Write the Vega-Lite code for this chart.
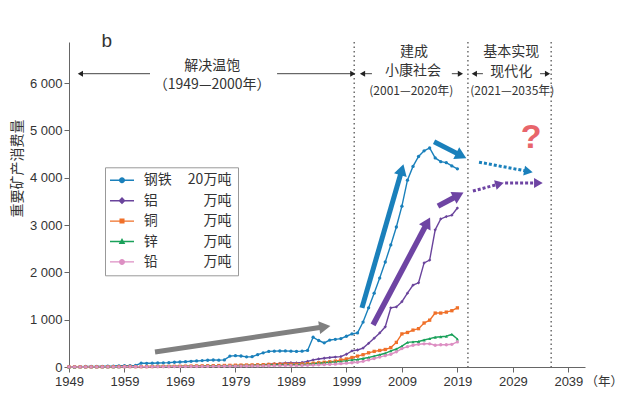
{
  "$schema": "https://vega.github.io/schema/vega-lite/v6.json",
  "width": 516,
  "height": 325,
  "autosize": {"type": "none"},
  "padding": {"left": 69, "top": 42, "right": 38, "bottom": 30},
  "background": "white",
  "config": {"view": {"stroke": null}},
  "datasets": {
    "series": [
      {"year":1949,"item":"钢铁","value":5},{"year":1950,"item":"钢铁","value":6},{"year":1951,"item":"钢铁","value":8},{"year":1952,"item":"钢铁","value":10},{"year":1953,"item":"钢铁","value":12},{"year":1954,"item":"钢铁","value":14},{"year":1955,"item":"钢铁","value":15},{"year":1956,"item":"钢铁","value":18},{"year":1957,"item":"钢铁","value":20},{"year":1958,"item":"钢铁","value":25},
      {"year":1959,"item":"钢铁","value":28},{"year":1960,"item":"钢铁","value":30},{"year":1961,"item":"钢铁","value":32},{"year":1962,"item":"钢铁","value":80},{"year":1963,"item":"钢铁","value":78},{"year":1964,"item":"钢铁","value":80},{"year":1965,"item":"钢铁","value":85},{"year":1966,"item":"钢铁","value":88},{"year":1967,"item":"钢铁","value":92},{"year":1968,"item":"钢铁","value":100},
      {"year":1969,"item":"钢铁","value":105},{"year":1970,"item":"钢铁","value":112},{"year":1971,"item":"钢铁","value":120},{"year":1972,"item":"钢铁","value":128},{"year":1973,"item":"钢铁","value":135},{"year":1974,"item":"钢铁","value":142},{"year":1975,"item":"钢铁","value":148},{"year":1976,"item":"钢铁","value":145},{"year":1977,"item":"钢铁","value":150},{"year":1978,"item":"钢铁","value":230},
      {"year":1979,"item":"钢铁","value":240},{"year":1980,"item":"钢铁","value":232},{"year":1981,"item":"钢铁","value":215},{"year":1982,"item":"钢铁","value":218},{"year":1983,"item":"钢铁","value":260},{"year":1984,"item":"钢铁","value":300},{"year":1985,"item":"钢铁","value":330},{"year":1986,"item":"钢铁","value":335},{"year":1987,"item":"钢铁","value":338},{"year":1988,"item":"钢铁","value":340},
      {"year":1989,"item":"钢铁","value":335},{"year":1990,"item":"钢铁","value":330},{"year":1991,"item":"钢铁","value":335},{"year":1992,"item":"钢铁","value":350},{"year":1993,"item":"钢铁","value":630},{"year":1994,"item":"钢铁","value":560},{"year":1995,"item":"钢铁","value":510},{"year":1996,"item":"钢铁","value":570},{"year":1997,"item":"钢铁","value":585},{"year":1998,"item":"钢铁","value":600},
      {"year":1999,"item":"钢铁","value":650},{"year":2000,"item":"钢铁","value":700},{"year":2001,"item":"钢铁","value":720},{"year":2002,"item":"钢铁","value":950},{"year":2003,"item":"钢铁","value":1250},{"year":2004,"item":"钢铁","value":1560},{"year":2005,"item":"钢铁","value":1880},{"year":2006,"item":"钢铁","value":2220},{"year":2007,"item":"钢铁","value":2580},{"year":2008,"item":"钢铁","value":2960},
      {"year":2009,"item":"钢铁","value":3400},{"year":2010,"item":"钢铁","value":3950},{"year":2011,"item":"钢铁","value":4240},{"year":2012,"item":"钢铁","value":4450},{"year":2013,"item":"钢铁","value":4570},{"year":2014,"item":"钢铁","value":4630},{"year":2015,"item":"钢铁","value":4420},{"year":2016,"item":"钢铁","value":4340},{"year":2017,"item":"钢铁","value":4320},{"year":2018,"item":"钢铁","value":4250},
      {"year":2019,"item":"钢铁","value":4190},

      {"year":1949,"item":"铝","value":0},{"year":1950,"item":"铝","value":1},{"year":1951,"item":"铝","value":1},{"year":1952,"item":"铝","value":2},{"year":1953,"item":"铝","value":2},{"year":1954,"item":"铝","value":3},{"year":1955,"item":"铝","value":3},{"year":1956,"item":"铝","value":4},{"year":1957,"item":"铝","value":5},{"year":1958,"item":"铝","value":6},
      {"year":1959,"item":"铝","value":7},{"year":1960,"item":"铝","value":8},{"year":1961,"item":"铝","value":7},{"year":1962,"item":"铝","value":6},{"year":1963,"item":"铝","value":6},{"year":1964,"item":"铝","value":7},{"year":1965,"item":"铝","value":8},{"year":1966,"item":"铝","value":9},{"year":1967,"item":"铝","value":9},{"year":1968,"item":"铝","value":10},
      {"year":1969,"item":"铝","value":11},{"year":1970,"item":"铝","value":13},{"year":1971,"item":"铝","value":14},{"year":1972,"item":"铝","value":16},{"year":1973,"item":"铝","value":17},{"year":1974,"item":"铝","value":18},{"year":1975,"item":"铝","value":19},{"year":1976,"item":"铝","value":20},{"year":1977,"item":"铝","value":22},{"year":1978,"item":"铝","value":28},
      {"year":1979,"item":"铝","value":30},{"year":1980,"item":"铝","value":32},{"year":1981,"item":"铝","value":34},{"year":1982,"item":"铝","value":38},{"year":1983,"item":"铝","value":45},{"year":1984,"item":"铝","value":50},{"year":1985,"item":"铝","value":60},{"year":1986,"item":"铝","value":70},{"year":1987,"item":"铝","value":75},{"year":1988,"item":"铝","value":85},
      {"year":1989,"item":"铝","value":90},{"year":1990,"item":"铝","value":85},{"year":1991,"item":"铝","value":95},{"year":1992,"item":"铝","value":120},{"year":1993,"item":"铝","value":150},{"year":1994,"item":"铝","value":170},{"year":1995,"item":"铝","value":185},{"year":1996,"item":"铝","value":200},{"year":1997,"item":"铝","value":210},{"year":1998,"item":"铝","value":220},
      {"year":1999,"item":"铝","value":270},{"year":2000,"item":"铝","value":340},{"year":2001,"item":"铝","value":360},{"year":2002,"item":"铝","value":400},{"year":2003,"item":"铝","value":500},{"year":2004,"item":"铝","value":610},{"year":2005,"item":"铝","value":720},{"year":2006,"item":"铝","value":850},{"year":2007,"item":"铝","value":1250},{"year":2008,"item":"铝","value":1270},
      {"year":2009,"item":"铝","value":1380},{"year":2010,"item":"铝","value":1560},{"year":2011,"item":"铝","value":1730},{"year":2012,"item":"铝","value":1780},{"year":2013,"item":"铝","value":2200},{"year":2014,"item":"铝","value":2260},{"year":2015,"item":"铝","value":2900},{"year":2016,"item":"铝","value":3130},{"year":2017,"item":"铝","value":3180},{"year":2018,"item":"铝","value":3210},
      {"year":2019,"item":"铝","value":3360},

      {"year":1949,"item":"铜","value":1},{"year":1950,"item":"铜","value":1},{"year":1951,"item":"铜","value":2},{"year":1952,"item":"铜","value":2},{"year":1953,"item":"铜","value":3},{"year":1954,"item":"铜","value":3},{"year":1955,"item":"铜","value":4},{"year":1956,"item":"铜","value":5},{"year":1957,"item":"铜","value":6},{"year":1958,"item":"铜","value":8},
      {"year":1959,"item":"铜","value":9},{"year":1960,"item":"铜","value":10},{"year":1961,"item":"铜","value":8},{"year":1962,"item":"铜","value":8},{"year":1963,"item":"铜","value":9},{"year":1964,"item":"铜","value":10},{"year":1965,"item":"铜","value":12},{"year":1966,"item":"铜","value":13},{"year":1967,"item":"铜","value":13},{"year":1968,"item":"铜","value":14},
      {"year":1969,"item":"铜","value":15},{"year":1970,"item":"铜","value":17},{"year":1971,"item":"铜","value":19},{"year":1972,"item":"铜","value":22},{"year":1973,"item":"铜","value":24},{"year":1974,"item":"铜","value":26},{"year":1975,"item":"铜","value":27},{"year":1976,"item":"铜","value":30},{"year":1977,"item":"铜","value":32},{"year":1978,"item":"铜","value":35},
      {"year":1979,"item":"铜","value":38},{"year":1980,"item":"铜","value":40},{"year":1981,"item":"铜","value":42},{"year":1982,"item":"铜","value":44},{"year":1983,"item":"铜","value":46},{"year":1984,"item":"铜","value":50},{"year":1985,"item":"铜","value":55},{"year":1986,"item":"铜","value":58},{"year":1987,"item":"铜","value":60},{"year":1988,"item":"铜","value":62},
      {"year":1989,"item":"铜","value":60},{"year":1990,"item":"铜","value":58},{"year":1991,"item":"铜","value":65},{"year":1992,"item":"铜","value":70},{"year":1993,"item":"铜","value":80},{"year":1994,"item":"铜","value":90},{"year":1995,"item":"铜","value":100},{"year":1996,"item":"铜","value":110},{"year":1997,"item":"铜","value":125},{"year":1998,"item":"铜","value":150},
      {"year":1999,"item":"铜","value":170},{"year":2000,"item":"铜","value":200},{"year":2001,"item":"铜","value":230},{"year":2002,"item":"铜","value":260},{"year":2003,"item":"铜","value":300},{"year":2004,"item":"铜","value":330},{"year":2005,"item":"铜","value":350},{"year":2006,"item":"铜","value":370},{"year":2007,"item":"铜","value":410},{"year":2008,"item":"铜","value":520},
      {"year":2009,"item":"铜","value":700},{"year":2010,"item":"铜","value":730},{"year":2011,"item":"铜","value":780},{"year":2012,"item":"铜","value":810},{"year":2013,"item":"铜","value":930},{"year":2014,"item":"铜","value":990},{"year":2015,"item":"铜","value":1140},{"year":2016,"item":"铜","value":1140},{"year":2017,"item":"铜","value":1160},{"year":2018,"item":"铜","value":1190},
      {"year":2019,"item":"铜","value":1250},

      {"year":1949,"item":"锌","value":1},{"year":1950,"item":"锌","value":1},{"year":1951,"item":"锌","value":2},{"year":1952,"item":"锌","value":2},{"year":1953,"item":"锌","value":2},{"year":1954,"item":"锌","value":3},{"year":1955,"item":"锌","value":3},{"year":1956,"item":"锌","value":4},{"year":1957,"item":"锌","value":5},{"year":1958,"item":"锌","value":6},
      {"year":1959,"item":"锌","value":7},{"year":1960,"item":"锌","value":8},{"year":1961,"item":"锌","value":7},{"year":1962,"item":"锌","value":7},{"year":1963,"item":"锌","value":8},{"year":1964,"item":"锌","value":9},{"year":1965,"item":"锌","value":10},{"year":1966,"item":"锌","value":11},{"year":1967,"item":"锌","value":11},{"year":1968,"item":"锌","value":12},
      {"year":1969,"item":"锌","value":13},{"year":1970,"item":"锌","value":15},{"year":1971,"item":"锌","value":16},{"year":1972,"item":"锌","value":18},{"year":1973,"item":"锌","value":19},{"year":1974,"item":"锌","value":20},{"year":1975,"item":"锌","value":21},{"year":1976,"item":"锌","value":23},{"year":1977,"item":"锌","value":25},{"year":1978,"item":"锌","value":27},
      {"year":1979,"item":"锌","value":30},{"year":1980,"item":"锌","value":32},{"year":1981,"item":"锌","value":33},{"year":1982,"item":"锌","value":35},{"year":1983,"item":"锌","value":37},{"year":1984,"item":"锌","value":40},{"year":1985,"item":"锌","value":43},{"year":1986,"item":"锌","value":46},{"year":1987,"item":"锌","value":48},{"year":1988,"item":"锌","value":50},
      {"year":1989,"item":"锌","value":50},{"year":1990,"item":"锌","value":48},{"year":1991,"item":"锌","value":55},{"year":1992,"item":"锌","value":60},{"year":1993,"item":"锌","value":70},{"year":1994,"item":"锌","value":80},{"year":1995,"item":"锌","value":90},{"year":1996,"item":"锌","value":100},{"year":1997,"item":"锌","value":110},{"year":1998,"item":"锌","value":120},
      {"year":1999,"item":"锌","value":135},{"year":2000,"item":"锌","value":150},{"year":2001,"item":"锌","value":160},{"year":2002,"item":"锌","value":180},{"year":2003,"item":"锌","value":200},{"year":2004,"item":"锌","value":230},{"year":2005,"item":"锌","value":260},{"year":2006,"item":"锌","value":290},{"year":2007,"item":"锌","value":340},{"year":2008,"item":"锌","value":380},
      {"year":2009,"item":"锌","value":440},{"year":2010,"item":"锌","value":520},{"year":2011,"item":"锌","value":530},{"year":2012,"item":"锌","value":540},{"year":2013,"item":"锌","value":570},{"year":2014,"item":"锌","value":600},{"year":2015,"item":"锌","value":630},{"year":2016,"item":"锌","value":640},{"year":2017,"item":"锌","value":650},{"year":2018,"item":"锌","value":690},
      {"year":2019,"item":"锌","value":590},

      {"year":1949,"item":"铅","value":1},{"year":1950,"item":"铅","value":1},{"year":1951,"item":"铅","value":1},{"year":1952,"item":"铅","value":1},{"year":1953,"item":"铅","value":2},{"year":1954,"item":"铅","value":2},{"year":1955,"item":"铅","value":2},{"year":1956,"item":"铅","value":3},{"year":1957,"item":"铅","value":3},{"year":1958,"item":"铅","value":4},
      {"year":1959,"item":"铅","value":5},{"year":1960,"item":"铅","value":5},{"year":1961,"item":"铅","value":5},{"year":1962,"item":"铅","value":5},{"year":1963,"item":"铅","value":5},{"year":1964,"item":"铅","value":6},{"year":1965,"item":"铅","value":6},{"year":1966,"item":"铅","value":7},{"year":1967,"item":"铅","value":7},{"year":1968,"item":"铅","value":8},
      {"year":1969,"item":"铅","value":8},{"year":1970,"item":"铅","value":9},{"year":1971,"item":"铅","value":10},{"year":1972,"item":"铅","value":11},{"year":1973,"item":"铅","value":12},{"year":1974,"item":"铅","value":13},{"year":1975,"item":"铅","value":14},{"year":1976,"item":"铅","value":15},{"year":1977,"item":"铅","value":16},{"year":1978,"item":"铅","value":18},
      {"year":1979,"item":"铅","value":19},{"year":1980,"item":"铅","value":20},{"year":1981,"item":"铅","value":21},{"year":1982,"item":"铅","value":22},{"year":1983,"item":"铅","value":23},{"year":1984,"item":"铅","value":25},{"year":1985,"item":"铅","value":27},{"year":1986,"item":"铅","value":29},{"year":1987,"item":"铅","value":30},{"year":1988,"item":"铅","value":32},
      {"year":1989,"item":"铅","value":32},{"year":1990,"item":"铅","value":30},{"year":1991,"item":"铅","value":33},{"year":1992,"item":"铅","value":36},{"year":1993,"item":"铅","value":40},{"year":1994,"item":"铅","value":45},{"year":1995,"item":"铅","value":50},{"year":1996,"item":"铅","value":55},{"year":1997,"item":"铅","value":60},{"year":1998,"item":"铅","value":70},
      {"year":1999,"item":"铅","value":80},{"year":2000,"item":"铅","value":90},{"year":2001,"item":"铅","value":100},{"year":2002,"item":"铅","value":120},{"year":2003,"item":"铅","value":150},{"year":2004,"item":"铅","value":180},{"year":2005,"item":"铅","value":210},{"year":2006,"item":"铅","value":240},{"year":2007,"item":"铅","value":270},{"year":2008,"item":"铅","value":320},
      {"year":2009,"item":"铅","value":390},{"year":2010,"item":"铅","value":430},{"year":2011,"item":"铅","value":460},{"year":2012,"item":"铅","value":480},{"year":2013,"item":"铅","value":490},{"year":2014,"item":"铅","value":490},{"year":2015,"item":"铅","value":460},{"year":2016,"item":"铅","value":470},{"year":2017,"item":"铅","value":470},{"year":2018,"item":"铅","value":480},
      {"year":2019,"item":"铅","value":530}
    ],
    "periods": [{"x": 2000.4}, {"x": 2020.9}, {"x": 2035.9}],
    "arrows": [
      {"id":"grey","x":1964.5,"y":317,"x2":1995.1,"y2":851},
      {"id":"blueUp","x":2001.8,"y":1250,"x2":2009.0,"y2":4170},
      {"id":"purpleUp","x":2003.8,"y":890,"x2":2013.6,"y2":3057},
      {"id":"blueDown","x":2014.8,"y":4760,"x2":2019.7,"y2":4468},
      {"id":"purpleShort","x":2015.5,"y":3400,"x2":2019.2,"y2":3631},
      {"id":"blueDot","x":2022.9,"y":4330,"x2":2031.8,"y2":4134},
      {"id":"purpleDot1","x":2021.8,"y":3720,"x2":2026.6,"y2":3871},
      {"id":"purpleDot2","x":2027.6,"y":3890,"x2":2033.6,"y2":3890},
      {"id":"h1","x":1963.6,"y":6200,"x2":1951.05,"y2":6200},
      {"id":"h2","x":1986.5,"y":6200,"x2":2000.15,"y2":6200},
      {"id":"h3","x":2003.6,"y":6200,"x2":2001.9,"y2":6200},
      {"id":"h4","x":2018,"y":6200,"x2":2019.55,"y2":6200},
      {"id":"h5","x":2023.6,"y":6200,"x2":2022.05,"y2":6200},
      {"id":"h6","x":2033.9,"y":6200,"x2":2035.25,"y2":6200}
    ],
    "labels": [
      {"kind":"b","x":1955.8,"y":6890,"text":"b"},
      {"kind":"big","x":1974.8,"y":6360,"text":"解决温饱"},
      {"kind":"big","x":1974.8,"y":5970,"text":"（1949—2000年）"},
      {"kind":"big","x":2011.2,"y":6666,"text":"建成"},
      {"kind":"big","x":2011.0,"y":6264,"text":"小康社会"},
      {"kind":"small","x":2010.7,"y":5835,"text":"(2001—2020年)"},
      {"kind":"big","x":2028.7,"y":6666,"text":"基本实现"},
      {"kind":"big","x":2028.7,"y":6243,"text":"现代化"},
      {"kind":"small","x":2028.9,"y":5835,"text":"(2021—2035年)"},
      {"kind":"q","x":2032.3,"y":4831,"text":"?"}
    ]
  },
  "resolve": {
    "scale": {"color": "independent", "shape": "independent", "opacity": "independent"},
    "axis": {"x": "independent"}
  },
  "layer": [
    {
      "data": {"name": "periods"},
      "mark": {"type": "rule", "color": "#555555", "strokeWidth": 1.3, "strokeDash": [1.5, 3]},
      "encoding": {
        "x": {
          "field": "x", "type": "quantitative",
          "scale": {"domain": [1949, 2042], "nice": false, "zero": false},
          "axis": {
            "orient": "bottom",
            "title": "（年）",
            "titleFont": "Noto Sans CJK SC", "titleFontSize": 12.5, "titleFontWeight": "normal", "titleColor": "#333333",
            "titleAngle": 0, "titleAlign": "left", "titleBaseline": "middle", "titleX": 516, "titleY": 14,
            "values": [1949,1959,1969,1979,1989,1999,2009,2019,2029,2039],
            "format": "d", "tickSize": 5,
            "labelOverlap": false, "labelBound": false, "labelFlush": false,
            "labelFont": "Liberation Sans", "labelFontSize": 13, "labelColor": "#333333", "labelPadding": 3,
            "domainColor": "#666666", "tickColor": "#666666", "grid": false
          }
        }
      }
    },
    {
      "data": {"name": "series"},
      "layer": [
        {
          "mark": {"type": "line", "strokeWidth": 1.4},
          "encoding": {
            "x": {
              "field": "year", "type": "quantitative",
              "axis": {
                "orient": "bottom", "title": null, "labels": false, "domain": false, "grid": false,
                "values": [1949,1950,1951,1952,1953,1954,1955,1956,1957,1958,1959,1960,1961,1962,1963,1964,1965,1966,1967,1968,1969,1970,1971,1972,1973,1974,1975,1976,1977,1978,1979,1980,1981,1982,1983,1984,1985,1986,1987,1988,1989,1990,1991,1992,1993,1994,1995,1996,1997,1998,1999,2000,2001,2002,2003,2004,2005,2006,2007,2008,2009,2010,2011,2012,2013,2014,2015,2016,2017,2018,2019,2020,2021,2022,2023,2024,2025,2026,2027,2028,2029,2030,2031,2032,2033,2034,2035,2036,2037,2038,2039,2040,2041],
                "tickSize": 3, "tickColor": "#666666"
              }
            },
            "y": {
              "field": "value", "type": "quantitative",
              "scale": {"domain": [0, 6870], "nice": false, "zero": true},
              "axis": {
                "title": "重要矿产消费量",
                "titleFont": "Noto Sans CJK SC", "titleFontSize": 14, "titleFontWeight": "normal", "titleColor": "#333333",
                "titleX": -52, "titleY": 126, "titleAngle": 270, "titleAlign": "center", "titleBaseline": "middle",
                "values": [0,250,500,750,1000,1250,1500,1750,2000,2250,2500,2750,3000,3250,3500,3750,4000,4250,4500,4750,5000,5250,5500,5750,6000,6250,6500,6750],
                "labelExpr": "datum.value % 1000 == 0 ? replace(format(datum.value, ','), ',', ' ') : ''",
                "tickSize": {"condition": {"test": "datum.value % 1000 == 0", "value": 5}, "value": 3},
                "labelOverlap": false, "labelBound": false, "labelFlush": false,
                "labelFont": "Liberation Sans", "labelFontSize": 13, "labelColor": "#333333", "labelPadding": 2,
                "domainColor": "#666666", "tickColor": "#666666", "grid": false
              }
            },
            "color": {
              "field": "item", "type": "nominal",
              "scale": {"domain": ["钢铁", "铝", "铜", "锌", "铅"], "range": ["#1a80bb", "#6a449c", "#f07029", "#1aa15a", "#dd8fc3"]},
              "legend": null
            }
          }
        },
        {
          "mark": {"type": "point", "filled": true, "size": 11, "opacity": 1},
          "encoding": {
            "x": {"field": "year", "type": "quantitative", "axis": null},
            "y": {"field": "value", "type": "quantitative"},
            "color": {
              "field": "item", "type": "nominal",
              "scale": {"domain": ["钢铁", "铝", "铜", "锌", "铅"], "range": ["#1a80bb", "#6a449c", "#f07029", "#1aa15a", "#dd8fc3"]},
              "legend": null
            },
            "shape": {
              "field": "item", "type": "nominal",
              "scale": {"domain": ["钢铁", "铝", "铜", "锌", "铅"], "range": ["circle", "diamond", "square", "triangle-up", "circle"]},
              "legend": null
            }
          }
        }
      ]
    },
    {
      "data": {"name": "series"},
      "transform": [{"filter": "false"}],
      "mark": {"type": "point", "filled": true, "opacity": 1},
      "encoding": {
        "color": {
          "field": "item", "type": "nominal",
          "scale": {"domain": ["钢铁", "铝", "铜", "锌", "铅"], "range": ["#1a80bb", "#6a449c", "#f07029", "#1aa15a", "#dd8fc3"]},
          "legend": {
            "orient": "none", "legendX": 40, "legendY": 125.3, "title": null,
            "padding": 6,
            "symbolSize": 144, "symbolStrokeWidth": 0, "symbolOpacity": 1,
            "labelFont": "Noto Sans CJK SC", "labelFontSize": 14, "labelColor": "#333333",
            "labelOffset": 14.7, "rowPadding": 6.4
          }
        },
        "shape": {
          "field": "item", "type": "nominal",
          "scale": {
            "domain": ["钢铁", "铝", "铜", "锌", "铅"],
            "range": [
              "M-2,-0.12H2V0.12H-2Z M0.5,0A0.5,0.5 0 1,1 -0.5,0A0.5,0.5 0 1,1 0.5,0Z",
              "M-2,-0.12H2V0.12H-2Z M0,-0.6L0.6,0L0,0.6L-0.6,0Z",
              "M-2,-0.12H2V0.12H-2Z M-0.42,-0.42H0.42V0.42H-0.42Z",
              "M-2,-0.12H2V0.12H-2Z M0,-0.6L0.55,0.42H-0.55Z",
              "M-2,-0.12H2V0.12H-2Z M0.5,0A0.5,0.5 0 1,1 -0.5,0A0.5,0.5 0 1,1 0.5,0Z"
            ]
          },
          "legend": {
            "orient": "none", "legendX": 40, "legendY": 125.3, "title": null,
            "padding": 6,
            "symbolSize": 144, "symbolStrokeWidth": 0, "symbolOpacity": 1,
            "labelFont": "Noto Sans CJK SC", "labelFontSize": 14, "labelColor": "#333333",
            "labelOffset": 14.7, "rowPadding": 6.4
          }
        }
      }
    },
    {
      "data": {"name": "series"},
      "transform": [{"filter": "false"}],
      "mark": {"type": "point", "filled": true, "color": "transparent"},
      "encoding": {
        "opacity": {
          "field": "unit", "type": "ordinal",
          "scale": {"domain": ["a", "b", "c", "d", "e"], "range": [1, 1, 1, 1, 1]},
          "legend": {
            "orient": "none", "legendX": 36, "legendY": 125.3, "title": null,
            "strokeColor": "#999999",
            "padding": 6, "symbolSize": 144, "symbolType": "M0,0",
            "symbolFillColor": "transparent", "symbolStrokeColor": "transparent", "symbolStrokeWidth": 0,
            "labelFont": "Noto Sans CJK SC", "labelFontSize": 14, "labelColor": "#333333",
            "labelOffset": 106.4, "labelAlign": "right", "rowPadding": 6.4,
            "labelExpr": "datum.label == 'a' ? '20万吨' : '万吨'"
          }
        }
      }
    },
    {
      "data": {"name": "arrows"},
      "transform": [{"filter": "datum.id == 'grey'"}],
      "layer": [
        {"mark": {"type": "rule", "color": "#808080", "strokeWidth": 5},
         "encoding": {"x": {"field": "x", "type": "quantitative", "axis": null}, "y": {"field": "y", "type": "quantitative"}, "x2": {"field": "x2"}, "y2": {"field": "y2"}}},
        {"mark": {"type": "point", "shape": "triangle-up", "filled": true, "opacity": 1, "color": "#808080", "size": 170, "angle": 81.5},
         "encoding": {"x": {"field": "x2", "type": "quantitative", "axis": null}, "y": {"field": "y2", "type": "quantitative"}}}
      ]
    },
    {
      "data": {"name": "arrows"},
      "transform": [{"filter": "datum.id == 'blueUp'"}],
      "layer": [
        {"mark": {"type": "rule", "color": "#1a80bb", "strokeWidth": 5},
         "encoding": {"x": {"field": "x", "type": "quantitative", "axis": null}, "y": {"field": "y", "type": "quantitative"}, "x2": {"field": "x2"}, "y2": {"field": "y2"}}},
        {"mark": {"type": "point", "shape": "triangle-up", "filled": true, "opacity": 1, "color": "#1a80bb", "size": 170, "angle": 16},
         "encoding": {"x": {"field": "x2", "type": "quantitative", "axis": null}, "y": {"field": "y2", "type": "quantitative"}}}
      ]
    },
    {
      "data": {"name": "arrows"},
      "transform": [{"filter": "datum.id == 'purpleUp'"}],
      "layer": [
        {"mark": {"type": "rule", "color": "#6e44a3", "strokeWidth": 5.5},
         "encoding": {"x": {"field": "x", "type": "quantitative", "axis": null}, "y": {"field": "y", "type": "quantitative"}, "x2": {"field": "x2"}, "y2": {"field": "y2"}}},
        {"mark": {"type": "point", "shape": "triangle-up", "filled": true, "opacity": 1, "color": "#6e44a3", "size": 170, "angle": 27.9},
         "encoding": {"x": {"field": "x2", "type": "quantitative", "axis": null}, "y": {"field": "y2", "type": "quantitative"}}}
      ]
    },
    {
      "data": {"name": "arrows"},
      "transform": [{"filter": "datum.id == 'blueDown'"}],
      "layer": [
        {"mark": {"type": "rule", "color": "#1a80bb", "strokeWidth": 5},
         "encoding": {"x": {"field": "x", "type": "quantitative", "axis": null}, "y": {"field": "y", "type": "quantitative"}, "x2": {"field": "x2"}, "y2": {"field": "y2"}}},
        {"mark": {"type": "point", "shape": "triangle-up", "filled": true, "opacity": 1, "color": "#1a80bb", "size": 170, "angle": 117},
         "encoding": {"x": {"field": "x2", "type": "quantitative", "axis": null}, "y": {"field": "y2", "type": "quantitative"}}}
      ]
    },
    {
      "data": {"name": "arrows"},
      "transform": [{"filter": "datum.id == 'purpleShort'"}],
      "layer": [
        {"mark": {"type": "rule", "color": "#6e44a3", "strokeWidth": 5.5},
         "encoding": {"x": {"field": "x", "type": "quantitative", "axis": null}, "y": {"field": "y", "type": "quantitative"}, "x2": {"field": "x2"}, "y2": {"field": "y2"}}},
        {"mark": {"type": "point", "shape": "triangle-up", "filled": true, "opacity": 1, "color": "#6e44a3", "size": 170, "angle": 62.2},
         "encoding": {"x": {"field": "x2", "type": "quantitative", "axis": null}, "y": {"field": "y2", "type": "quantitative"}}}
      ]
    },
    {
      "data": {"name": "arrows"},
      "transform": [{"filter": "datum.id == 'blueDot'"}],
      "layer": [
        {"mark": {"type": "rule", "color": "#1a80bb", "strokeWidth": 3, "strokeDash": [3, 2]},
         "encoding": {"x": {"field": "x", "type": "quantitative", "axis": null}, "y": {"field": "y", "type": "quantitative"}, "x2": {"field": "x2"}, "y2": {"field": "y2"}}},
        {"mark": {"type": "point", "shape": "triangle-up", "filled": true, "opacity": 1, "color": "#1a80bb", "size": 100, "angle": 100.6},
         "encoding": {"x": {"field": "x2", "type": "quantitative", "axis": null}, "y": {"field": "y2", "type": "quantitative"}}}
      ]
    },
    {
      "data": {"name": "arrows"},
      "transform": [{"filter": "datum.id == 'purpleDot1'"}],
      "layer": [
        {"mark": {"type": "rule", "color": "#6e44a3", "strokeWidth": 3, "strokeDash": [3, 2]},
         "encoding": {"x": {"field": "x", "type": "quantitative", "axis": null}, "y": {"field": "y", "type": "quantitative"}, "x2": {"field": "x2"}, "y2": {"field": "y2"}}},
        {"mark": {"type": "point", "shape": "triangle-up", "filled": true, "opacity": 1, "color": "#6e44a3", "size": 100, "angle": 75},
         "encoding": {"x": {"field": "x2", "type": "quantitative", "axis": null}, "y": {"field": "y2", "type": "quantitative"}}}
      ]
    },
    {
      "data": {"name": "arrows"},
      "transform": [{"filter": "datum.id == 'purpleDot2'"}],
      "layer": [
        {"mark": {"type": "rule", "color": "#6e44a3", "strokeWidth": 3, "strokeDash": [3, 2]},
         "encoding": {"x": {"field": "x", "type": "quantitative", "axis": null}, "y": {"field": "y", "type": "quantitative"}, "x2": {"field": "x2"}, "y2": {"field": "y2"}}},
        {"mark": {"type": "point", "shape": "triangle-up", "filled": true, "opacity": 1, "color": "#6e44a3", "size": 100, "angle": 90},
         "encoding": {"x": {"field": "x2", "type": "quantitative", "axis": null}, "y": {"field": "y2", "type": "quantitative"}}}
      ]
    },
    {
      "data": {"name": "arrows"},
      "transform": [{"filter": "test(/^h/, datum.id)"}],
      "mark": {"type": "rule", "color": "#444444", "strokeWidth": 1},
      "encoding": {"x": {"field": "x", "type": "quantitative", "axis": null}, "y": {"field": "y", "type": "quantitative"}, "x2": {"field": "x2"}, "y2": {"field": "y2"}}
    },
    {
      "data": {"name": "arrows"},
      "transform": [{"filter": "indexof(['h1','h3','h5'], datum.id) >= 0"}],
      "mark": {"type": "point", "shape": "triangle-up", "filled": true, "opacity": 1, "color": "#222222", "size": 36, "angle": 270},
      "encoding": {"x": {"field": "x2", "type": "quantitative", "axis": null}, "y": {"field": "y2", "type": "quantitative"}}
    },
    {
      "data": {"name": "arrows"},
      "transform": [{"filter": "indexof(['h2','h4','h6'], datum.id) >= 0"}],
      "mark": {"type": "point", "shape": "triangle-up", "filled": true, "opacity": 1, "color": "#222222", "size": 36, "angle": 90},
      "encoding": {"x": {"field": "x2", "type": "quantitative", "axis": null}, "y": {"field": "y2", "type": "quantitative"}}
    },
    {
      "data": {"name": "labels"},
      "transform": [{"filter": "datum.kind == 'big'"}],
      "mark": {"type": "text", "font": "Noto Sans CJK SC", "fontSize": 14, "color": "#333333", "align": "center", "baseline": "middle"},
      "encoding": {"x": {"field": "x", "type": "quantitative", "axis": null}, "y": {"field": "y", "type": "quantitative"}, "text": {"field": "text"}}
    },
    {
      "data": {"name": "labels"},
      "transform": [{"filter": "datum.kind == 'small'"}],
      "mark": {"type": "text", "font": "Noto Sans CJK SC", "fontSize": 12, "color": "#333333", "align": "center", "baseline": "middle"},
      "encoding": {"x": {"field": "x", "type": "quantitative", "axis": null}, "y": {"field": "y", "type": "quantitative"}, "text": {"field": "text"}}
    },
    {
      "data": {"name": "labels"},
      "transform": [{"filter": "datum.kind == 'b'"}],
      "mark": {"type": "text", "font": "Liberation Sans", "fontSize": 19, "color": "#333333", "align": "center", "baseline": "middle"},
      "encoding": {"x": {"field": "x", "type": "quantitative", "axis": null}, "y": {"field": "y", "type": "quantitative"}, "text": {"field": "text"}}
    },
    {
      "data": {"name": "labels"},
      "transform": [{"filter": "datum.kind == 'q'"}],
      "mark": {"type": "text", "font": "Liberation Sans", "fontSize": 34, "fontWeight": "bold", "color": "#e8656b", "align": "center", "baseline": "middle"},
      "encoding": {"x": {"field": "x", "type": "quantitative", "axis": null}, "y": {"field": "y", "type": "quantitative"}, "text": {"field": "text"}}
    }
  ]
}
